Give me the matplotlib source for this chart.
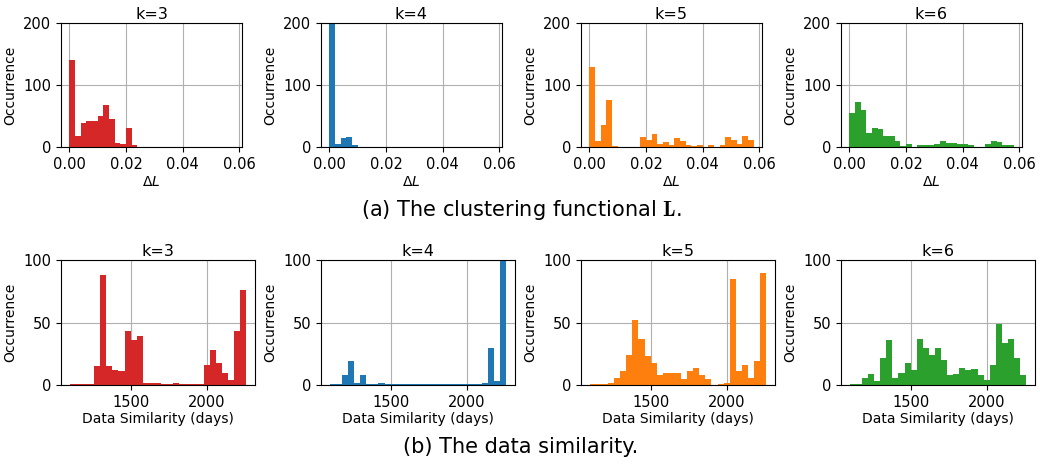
import matplotlib
matplotlib.use("Agg")
import matplotlib.pyplot as plt
import numpy as np

# histogram bins (29 bins each)
dl_edges = np.linspace(0.0, 0.058, 30)
days_edges = np.linspace(1100, 2260, 30)

ks = ["k=3", "k=4", "k=5", "k=6"]
colors = ["tab:red", "tab:blue", "tab:orange", "tab:green"]

# (a) clustering functional, counts per bin
dl_k3 = [141, 18, 40, 43, 43, 51, 69, 46, 7, 5, 31, 3, 0, 0, 0,
         0, 0, 0, 0, 0, 0, 0, 0, 0, 0, 0, 0, 0, 0]
dl_k4 = [260, 5, 15, 17, 3, 0, 0, 0, 0, 0, 0, 0, 0, 0, 0,
         0, 0, 0, 0, 0, 0, 0, 0, 0, 0, 0, 0, 0, 0]
dl_k5 = [130, 10, 36, 77, 2, 0, 0, 0, 0, 16, 12, 22, 5, 9, 3,
         15, 10, 4, 2, 4, 0, 4, 1, 3, 16, 12, 6, 18, 12]
dl_k6 = [56, 73, 60, 23, 31, 30, 18, 18, 10, 2, 5, 0, 3, 3, 3,
         5, 10, 7, 7, 5, 5, 4, 1, 0, 5, 10, 9, 3, 4]

# (b) data similarity, counts per bin
ds_k3 = [1, 1, 1, 1, 15, 88, 15, 12, 11, 43, 36, 39, 2, 2, 2,
         1, 1, 2, 1, 1, 1, 1, 16, 28, 18, 10, 4, 43, 76]
ds_k4 = [1, 1, 8, 19, 2, 8, 1, 1, 2, 1, 1, 1, 1, 1, 1,
         1, 1, 1, 1, 1, 1, 1, 1, 1, 1, 2, 30, 3, 135]
ds_k5 = [1, 1, 1, 2, 6, 11, 24, 52, 37, 23, 18, 8, 10, 10, 10,
         5, 11, 14, 8, 5, 0, 1, 2, 85, 11, 16, 6, 19, 90]
ds_k6 = [1, 1, 6, 9, 3, 22, 36, 6, 10, 18, 12, 37, 30, 24, 30,
         20, 8, 9, 14, 12, 13, 8, 4, 16, 49, 34, 37, 22, 8]

dl_counts = [dl_k3, dl_k4, dl_k5, dl_k6]
ds_counts = [ds_k3, ds_k4, ds_k5, ds_k6]

W, H = 1040, 466
fig = plt.figure(figsize=(W / 100, H / 100), dpi=100)

lefts = [61, 321, 581, 841]

for i in range(4):
    # top row
    ax = fig.add_axes([lefts[i] / W, 1 - 147.3 / H, 181 / W, 124 / H])
    ax.hist(dl_edges[:-1], bins=dl_edges, weights=dl_counts[i], color=colors[i])
    ax.set_ylim(0, 200)
    ax.set_yticks([0, 100, 200])
    ax.set_xticks([0.0, 0.02, 0.04, 0.06])
    ax.set_xticklabels(["0.00", "0.02", "0.04", "0.06"])
    ax.set_title(ks[i], fontsize=11.5, pad=3)
    ax.set_xlabel(r"$\Delta L$", fontsize=10, labelpad=2)
    ax.set_ylabel("Occurrence", fontsize=10)
    ax.tick_params(labelsize=10.5)
    ax.grid(True)
    ax.set_axisbelow(True)

    # bottom row
    ax = fig.add_axes([lefts[i] / W, 1 - 385 / H, 194 / W, 124.7 / H])
    ax.hist(days_edges[:-1], bins=days_edges, weights=ds_counts[i], color=colors[i])
    ax.set_ylim(0, 100)
    ax.set_yticks([0, 50, 100])
    ax.set_xticks([1500, 2000])
    ax.set_title(ks[i], fontsize=11.5, pad=3)
    ax.set_xlabel("Data Similarity (days)", fontsize=10, labelpad=2)
    ax.set_ylabel("Occurrence", fontsize=10)
    ax.tick_params(labelsize=10.5)
    ax.grid(True)
    ax.set_axisbelow(True)

fig.text(521 / W, 1 - 210 / H, r"(a) The clustering functional $\mathbf{L}$.",
         ha="center", va="center", fontsize=15, math_fontfamily="cm")
fig.text(521 / W, 1 - 447 / H, "(b) The data similarity.",
         ha="center", va="center", fontsize=15)

fig.savefig("out.png", dpi=100)
